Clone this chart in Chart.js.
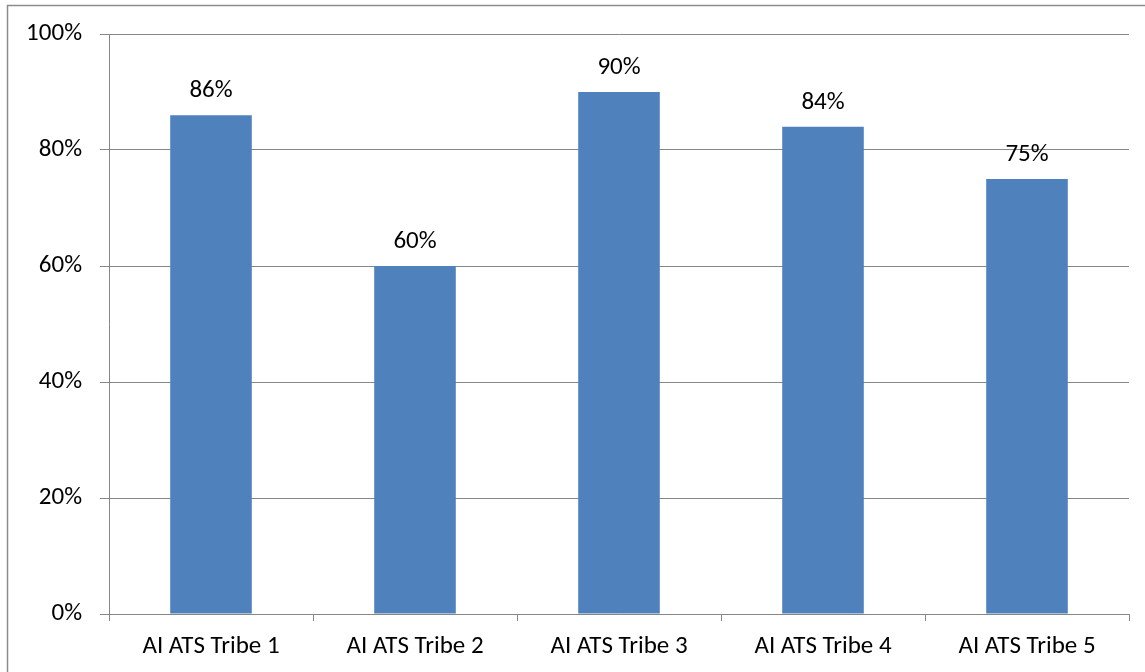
<!DOCTYPE html>
<html>
<head>
<meta charset="utf-8">
<script src="https://cdn.jsdelivr.net/npm/chart.js@4.4.1/dist/chart.umd.min.js"></script>
<style>
  html, body { margin: 0; padding: 0; background: #ffffff; }
  #wrap { width: 1145px; height: 672px; }
</style>
</head>
<body>
<div id="wrap"><canvas id="c" width="1145" height="672"></canvas></div>
<script>
// Share of each tribe, in percent
const categories = ['AI ATS Tribe 1', 'AI ATS Tribe 2', 'AI ATS Tribe 3', 'AI ATS Tribe 4', 'AI ATS Tribe 5'];
const values = [86, 60, 90, 84, 75];
const yTicks = [0, 20, 40, 60, 80, 100];

const FONT = 'Carlito, Calibri, Lato, sans-serif';
const FONT_SIZE = 25;
const AXIS_GREY = '#868686';

// Thin frame around the whole chart
const framePlugin = {
  id: 'frame',
  beforeDraw(chart) {
    const ctx = chart.ctx;
    ctx.save();
    ctx.fillStyle = '#ffffff';
    ctx.fillRect(0, 0, chart.width, chart.height);
    ctx.strokeStyle = '#8c8c8c';
    ctx.lineWidth = 1.5;
    ctx.strokeRect(7.5, 5.5, chart.width + 50, chart.height + 50);
    ctx.restore();
  }
};

// Value labels above each bar
const valueLabels = {
  id: 'valueLabels',
  afterDatasetsDraw(chart) {
    const ctx = chart.ctx;
    const meta = chart.getDatasetMeta(0);
    ctx.save();
    ctx.font = FONT_SIZE + 'px ' + FONT;
    ctx.fillStyle = '#000000';
    ctx.textAlign = 'center';
    ctx.textBaseline = 'alphabetic';
    meta.data.forEach((bar, i) => {
      ctx.fillText(values[i] + '%', bar.x, bar.y - 18);
    });
    ctx.restore();
  }
};

new Chart(document.getElementById('c'), {
  type: 'bar',
  data: {
    labels: categories,
    datasets: [{
      data: values,
      backgroundColor: '#4F81BD',
      borderWidth: 0,
      categoryPercentage: 1.0,
      barPercentage: 0.4
    }]
  },
  options: {
    responsive: false,
    animation: false,
    devicePixelRatio: 1,
    layout: { padding: { left: 0, top: 34, right: 16, bottom: 0 } },
    plugins: {
      legend: { display: false },
      tooltip: { enabled: false }
    },
    scales: {
      x: {
        afterFit(scale) { scale.height = 58; },
        grid: {
          offset: true,
          drawOnChartArea: false,
          drawTicks: true,
          tickLength: 7,
          color: AXIS_GREY,
          lineWidth: 1
        },
        border: { display: true, color: AXIS_GREY, width: 1 },
        ticks: {
          font: { family: FONT, size: FONT_SIZE },
          color: '#000000',
          padding: 11,
          maxRotation: 0
        }
      },
      y: {
        min: 0,
        max: 100,
        afterFit(scale) { scale.width = 109; },
        afterBuildTicks(scale) { scale.ticks = yTicks.map(v => ({ value: v })); },
        grid: {
          drawTicks: true,
          tickLength: 9,
          color: AXIS_GREY,
          lineWidth: 1
        },
        border: { display: true, color: AXIS_GREY, width: 1 },
        ticks: {
          font: { family: FONT, size: FONT_SIZE },
          color: '#000000',
          padding: 18,
          callback: v => v + '%'
        }
      }
    }
  },
  plugins: [framePlugin, valueLabels]
});
</script>
</body>
</html>
